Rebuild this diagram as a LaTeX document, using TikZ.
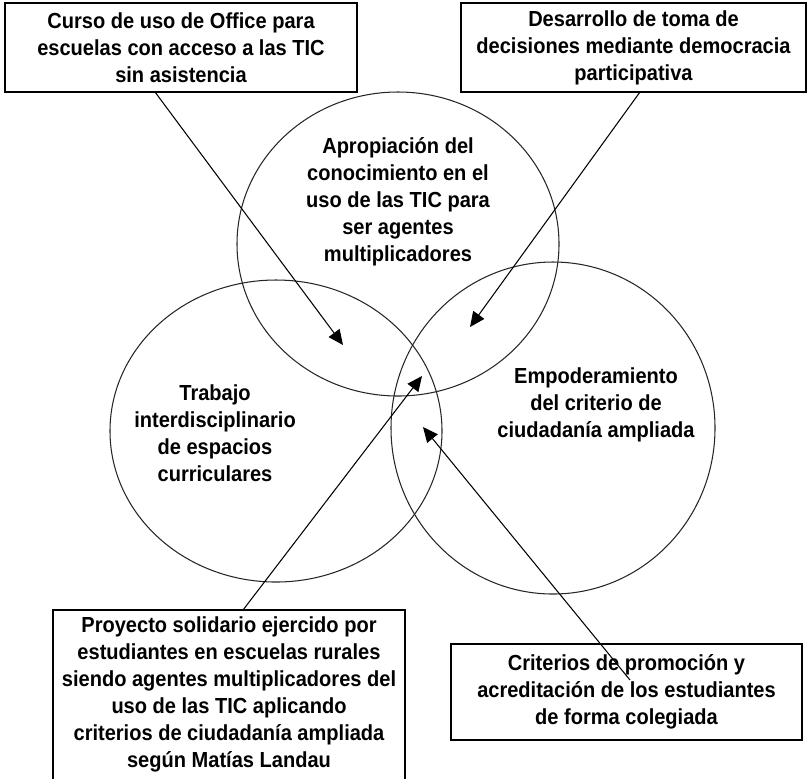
\documentclass[tikz,border=0pt]{standalone}
\usepackage{fontspec}
\setmainfont{Liberation Sans}[FakeStretch=0.92]
\usetikzlibrary{arrows.meta}

\tikzset{
  texto/.style={font=\bfseries\fontsize{12.4}{15.4}\selectfont, align=center, inner sep=0pt},
  caja/.style={texto, draw, line width=0.7pt, outer sep=0pt},
  aro/.style={line width=0.6pt, black!85},
  flecha/.style={line width=0.6pt, -{Triangle[length=0.3cm,width=0.27cm]}}
}

\begin{document}
\begin{tikzpicture}[x=0.02cm,y=-0.02cm]
      \useasboundingbox (0,0) rectangle (807,779);
      % circulos
      \draw[aro] (398,244) ellipse (161 and 152);
      \draw[aro] (276,431) ellipse (166 and 151);
      \draw[aro] (553,428) ellipse (162 and 166);
      \node[texto] (apropiacion) at (398,202) {Apropiación del\\conocimiento en el\\uso de las TIC para\\ser agentes\\multiplicadores};
      \node[texto] (trabajo) at (215,433) {Trabajo\\interdisciplinario\\de espacios\\curriculares};
      \node[texto] (empoderamiento) at (596,405) {Empoderamiento\\del criterio de\\ciudadanía ampliada};
      % cajas
      \node[caja, minimum width=7.04cm, minimum height=1.78cm] (curso) at (181,47.5) {Curso de uso de Office para\\escuelas con acceso a las TIC\\sin asistencia};
      \node[caja, minimum width=6.9cm, minimum height=1.78cm] (desarrollo) at (633.5,47.5) {Desarrollo de toma de\\decisiones mediante democracia\\participativa};
      \node[texto, minimum width=7.04cm, minimum height=3.38cm, outer sep=0pt] (proyecto) at (229,694.5) {Proyecto solidario ejercido por\\estudiantes en escuelas rurales\\siendo agentes multiplicadores del\\uso de las TIC aplicando\\criterios de ciudadanía ampliada\\según Matías Landau};
      \draw[line width=0.7pt] (proyecto.south west) -- (proyecto.north west) -- (proyecto.north east) -- (proyecto.south east);
      \node[caja, minimum width=7.02cm, minimum height=1.92cm] (criterios) at (626.5,692) {Criterios de promoción y\\acreditación de los estudiantes\\de forma colegiada};
      % puntas de flecha
      \coordinate (p1) at (343,345);
      \coordinate (p2) at (470,327);
      \coordinate (p3) at (422,376);
      \coordinate (p4) at (423,427);
      \coordinate (c4) at (630,680);
      \draw[flecha] (curso.south -| 155,0) -- (p1);
      \draw[flecha] (desarrollo.south -| 640,0) -- (p2);
      \draw[flecha] (proyecto.north -| 243,0) -- (p3);
      \draw[flecha] (c4) -- (p4);
    \end{tikzpicture}
\end{document}
